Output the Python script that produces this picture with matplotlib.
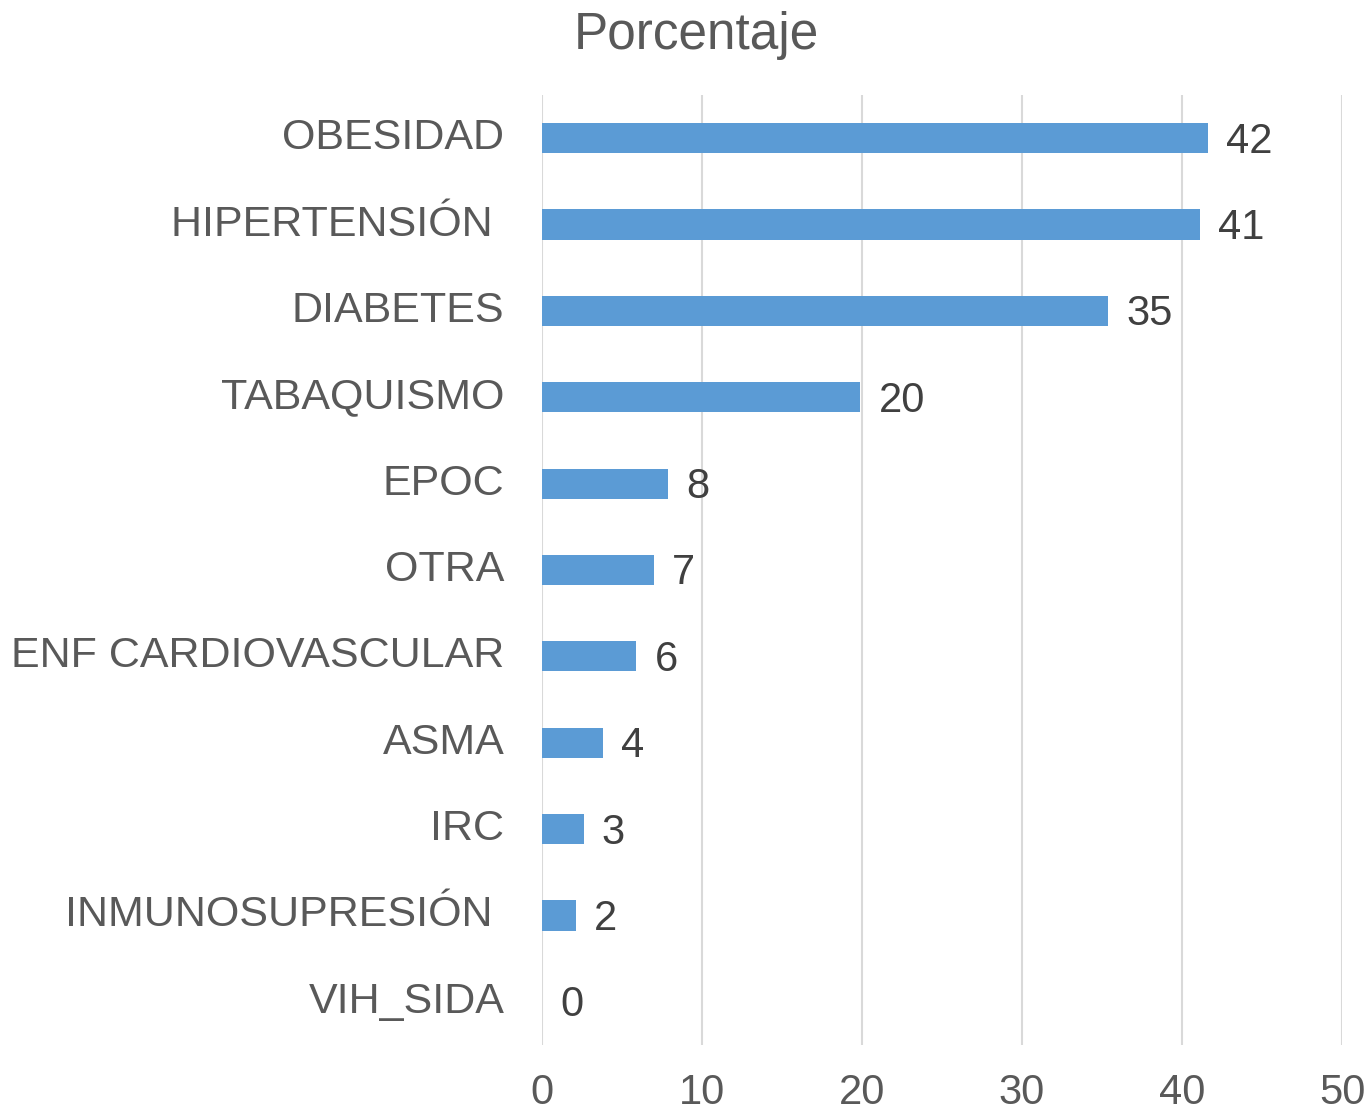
import matplotlib
matplotlib.use("Agg")
import matplotlib.pyplot as plt

categories = ["OBESIDAD", "HIPERTENSIÓN ", "DIABETES", "TABAQUISMO", "EPOC", "OTRA",
              "ENF CARDIOVASCULAR", "ASMA", "IRC", "INMUNOSUPRESIÓN ", "VIH_SIDA"]
values = [41.6, 41.1, 35.4, 19.9, 7.9, 7.0, 5.9, 3.8, 2.6, 2.1, 0.0]
xticks = [0, 10, 20, 30, 40, 50]
title = "Porcentaje"

plt.rcParams['font.family'] = ['Liberation Sans', 'DejaVu Sans']

fig = plt.figure(figsize=(13.71, 11.12), dpi=100)
ax = fig.add_axes([542/1371, 1 - 1045/1112, 800/1371, 950/1112])

ypos = list(range(len(categories)))
ax.barh(ypos, values, height=0.35, color="#5B9BD5", zorder=3)
ax.set_ylim(len(categories) - 0.5, -0.5)
ax.set_xlim(0, 50)
ax.set_yticks(ypos)
ax.set_yticklabels(categories, fontsize=31, color="#595959", va="center")
ax.set_xticks(xticks)
ax.set_xticklabels([str(t) for t in xticks], fontsize=30, color="#595959")
ax.tick_params(axis='y', length=0, pad=27)
ax.tick_params(axis='x', length=0, pad=20)
ax.grid(axis='x', color="#D9D9D9", linewidth=1.5, zorder=0)
for s in ax.spines.values():
    s.set_visible(False)

for y, v in zip(ypos, values):
    ax.annotate(f"{round(v):d}", xy=(v, y), xytext=(13, -2.5), textcoords="offset points",
                ha="left", va="center", fontsize=30, color="#404040")

fig.text(0.508, 1 - 35/1112, title, ha="center", va="center", fontsize=37, color="#595959")

fig.savefig("out.png", dpi=100, facecolor="white")
